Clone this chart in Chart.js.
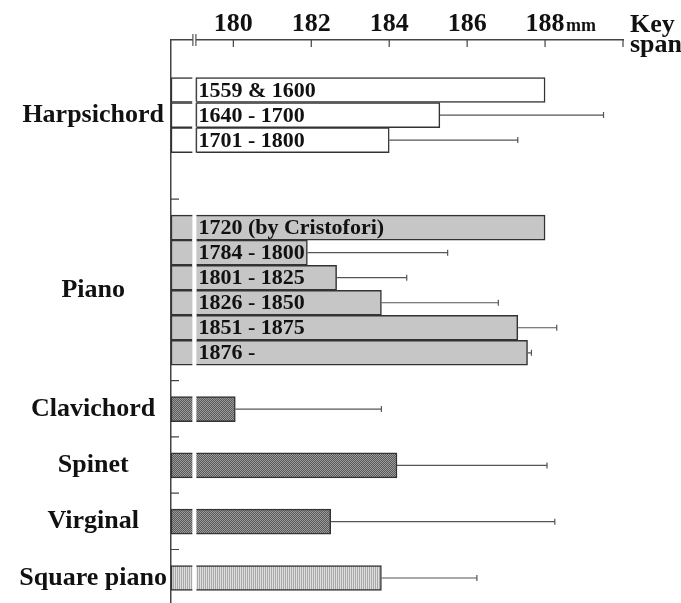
<!DOCTYPE html>
<html lang="en">
<head>
  <meta charset="UTF-8">
  <title>Key span</title>
  <style>
    html, body { margin: 0; padding: 0; background: #fff; }
    .chart-box { position: relative; width: 681px; height: 603px; }
  </style>
  <script src="https://cdn.jsdelivr.net/npm/chart.js"></script>
</head>
<body>
  <div class="chart-box"><canvas id="keySpan"></canvas></div>
  <script>
    // instrument groups, named left of the axis
    const groups = ['Harpsichord', 'Piano', 'Clavichord', 'Spinet', 'Virginal', 'Square piano'];
    // one entry per bar, top to bottom
    const barGroup = [0, 0, 0, 1, 1, 1, 1, 1, 1, 2, 3, 4, 5];
    const periods = ['1559 & 1600', '1640 - 1700', '1701 - 1800',
      '1720 (by Cristofori)', '1784 - 1800', '1801 - 1825', '1826 - 1850', '1851 - 1875', '1876 -',
      '', '', '', ''];
    const keySpan = [188.0, 185.3, 184.0, 188.0, 181.9, 182.65, 183.8, 187.3, 187.55, 180.05, 184.2, 182.5, 183.8];
    const spanSD = [0, 4.2, 3.3, 0, 3.6, 1.8, 3.0, 1.0, 0.1, 3.75, 3.85, 5.75, 2.45];
    const xTicks = [180, 182, 184, 186, 188, 190];
    const xMin = 178.4, xMax = 190, xBreak = 179.0;   // axis is broken near the origin

    const FONT = "'Liberation Serif', 'Times New Roman', serif";

    // rows: bars are 4 sub-rows apart, bigger gaps between groups
    const barRow = [];
    let r = 8;
    barGroup.forEach((g, i) => {
      if (i > 0) {
        const prev = barGroup[i - 1];
        r += g === prev ? 4 : (prev === 0 ? 14 : 9);
      }
      barRow.push(r);
    });
    const nRows = barRow[barRow.length - 1] + 5;
    const rowLabels = new Array(nRows).fill('');
    const rowData = new Array(nRows).fill(null);
    const rowBar = new Array(nRows).fill(-1);
    barRow.forEach((row, i) => {
      rowData[row] = [xMin, keySpan[i]];
      rowBar[row] = i;
    });
    groups.forEach((name, g) => {
      const rows = barRow.filter((row, i) => barGroup[i] === g);
      rowLabels[Math.round((rows[0] + rows[rows.length - 1]) / 2)] = name;
    });

    function makePattern(a, b, kind) {
      const c = document.createElement('canvas');
      c.width = 2; c.height = 2;
      const g = c.getContext('2d');
      g.fillStyle = a; g.fillRect(0, 0, 2, 2);
      g.fillStyle = b;
      if (kind === 'dots') { g.fillRect(0, 0, 1, 1); g.fillRect(1, 1, 1, 1); }
      else { g.fillRect(0, 0, 1, 2); }
      return g.createPattern(c, 'repeat');
    }
    const darkDots = makePattern('#5a5a5a', '#9a9a9a', 'dots');
    const lightStripes = makePattern('#a8a8a8', '#dedede', 'stripes');
    const groupFill = ['#ffffff', '#c6c6c6', darkDots, darkDots, darkDots, lightStripes];

    const decor = {
      id: 'decor',
      afterDatasetsDraw(chart) {
        const ctx = chart.ctx;
        const xs = chart.scales.x;
        const area = chart.chartArea;
        const meta = chart.getDatasetMeta(0);
        const xb = xs.getPixelForValue(xBreak);
        ctx.save();

        meta.data.forEach((el, row) => {
          const i = rowBar[row];
          if (i < 0) return;
          const p = el.getProps(['x', 'y', 'height'], true);
          const top = p.y - p.height / 2, bot = p.y + p.height / 2;
          // break strip through the bar
          ctx.fillStyle = '#fff';
          ctx.fillRect(xb - 2, top - 1, 4, p.height + 2);
          if (barGroup[i] === 0) {
            ctx.strokeStyle = '#444';
            ctx.lineWidth = 1.5;
            ctx.beginPath();
            ctx.moveTo(xb + 2, top);
            ctx.lineTo(xb + 2, bot);
            ctx.stroke();
          }
          // error bar
          if (spanSD[i] > 0) {
            const x1 = xs.getPixelForValue(keySpan[i] + spanSD[i]);
            ctx.strokeStyle = '#555';
            ctx.lineWidth = 1.2;
            ctx.beginPath();
            ctx.moveTo(p.x, p.y);
            ctx.lineTo(x1, p.y);
            ctx.moveTo(x1, p.y - 3);
            ctx.lineTo(x1, p.y + 3);
            ctx.stroke();
          }
          // period label inside bar
          if (periods[i]) {
            ctx.fillStyle = '#111';
            ctx.font = 'bold 22px ' + FONT;
            ctx.textAlign = 'left';
            ctx.textBaseline = 'middle';
            ctx.fillText(periods[i], xb + 4, p.y + 1);
          }
        });

        // tick marks hanging below the top axis
        ctx.strokeStyle = '#444';
        ctx.lineWidth = 1.2;
        ctx.beginPath();
        xTicks.forEach(v => {
          const x = xs.getPixelForValue(v);
          ctx.moveTo(x, area.top);
          ctx.lineTo(x, area.top + 7);
        });
        // group separator ticks on the left axis
        groups.forEach((name, g) => {
          if (g === 0) return;
          const first = barGroup.indexOf(g);
          const el = meta.data[barRow[first]];
          const y = el.y - el.height / 2 - 16;
          ctx.moveTo(area.left, y);
          ctx.lineTo(area.left + 8, y);
        });
        ctx.stroke();

        // break mark on the top axis
        ctx.fillStyle = '#fff';
        ctx.fillRect(xb - 1.5, area.top - 2, 3, 4);
        ctx.strokeStyle = '#555';
        ctx.lineWidth = 1.2;
        ctx.beginPath();
        ctx.moveTo(xb - 1.5, area.top - 6);
        ctx.lineTo(xb - 1.5, area.top + 6);
        ctx.moveTo(xb + 1.5, area.top - 6);
        ctx.lineTo(xb + 1.5, area.top + 6);
        ctx.stroke();

        // unit and axis title
        ctx.fillStyle = '#111';
        ctx.textAlign = 'left';
        ctx.textBaseline = 'alphabetic';
        ctx.font = 'bold 18px ' + FONT;
        ctx.fillText('mm', xs.getPixelForValue(188) + 21, 31);
        ctx.font = 'bold 26px ' + FONT;
        ctx.fillText('Key', area.right + 7, 32);
        ctx.fillText('span', area.right + 7, 52);
        ctx.restore();
      }
    };

    new Chart(document.getElementById('keySpan'), {
      type: 'bar',
      data: {
        labels: rowLabels,
        datasets: [{
          data: rowData,
          backgroundColor: c => rowBar[c.dataIndex] < 0 ? '#fff' : groupFill[barGroup[rowBar[c.dataIndex]]],
          borderColor: '#333',
          borderWidth: 1.5,
          borderSkipped: false,
          barThickness: 25
        }]
      },
      options: {
        indexAxis: 'y',
        responsive: true,
        maintainAspectRatio: false,
        animation: false,
        layout: { padding: { right: 58, top: 0, bottom: 0, left: 0 } },
        plugins: { legend: { display: false }, tooltip: { enabled: false } },
        scales: {
          x: {
            type: 'linear',
            position: 'top',
            min: xMin,
            max: xMax,
            afterBuildTicks: s => { s.ticks = xTicks.map(v => ({ value: v })); },
            afterFit: s => { s.height = 40; s.paddingLeft = 0; s.paddingRight = 0; },
            grid: { display: false, drawTicks: false },
            border: { display: true, color: '#444', width: 1.5 },
            ticks: {
              callback: v => v === 190 ? '' : v,
              font: { family: FONT, size: 26, weight: 'bold' },
              color: '#111',
              padding: 0,
              maxRotation: 0
            }
          },
          y: {
            type: 'category',
            offset: false,
            afterFit: s => { s.width = 171; s.paddingTop = 0; s.paddingBottom = 0; },
            grid: { display: false, drawTicks: false },
            border: { display: true, color: '#444', width: 1.5 },
            ticks: {
              autoSkip: false,
              crossAlign: 'center',
              padding: 4,
              font: { family: FONT, size: 26, weight: 'bold' },
              color: '#111'
            }
          }
        }
      },
      plugins: [decor]
    });
  </script>
</body>
</html>
